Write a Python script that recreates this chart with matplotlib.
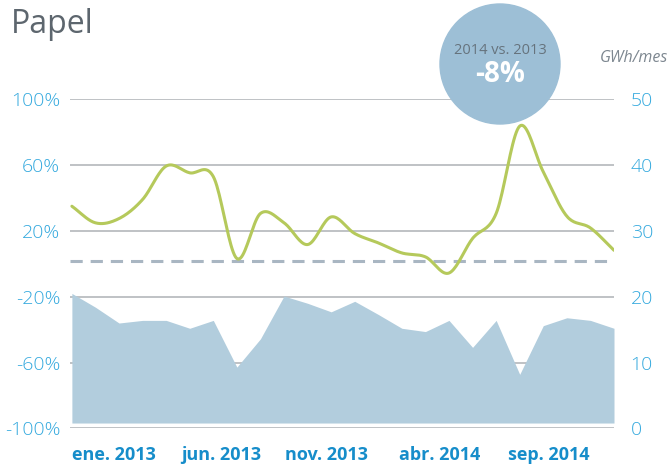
import numpy as np
import matplotlib
matplotlib.use("Agg")
import matplotlib.pyplot as plt
from matplotlib.patches import Ellipse

# monthly data, ene. 2013 .. dic. 2014
meses = ["ene. 2013", "feb. 2013", "mar. 2013", "abr. 2013", "may. 2013", "jun. 2013",
         "jul. 2013", "ago. 2013", "sep. 2013", "oct. 2013", "nov. 2013", "dic. 2013",
         "ene. 2014", "feb. 2014", "mar. 2014", "abr. 2014", "may. 2014", "jun. 2014",
         "jul. 2014", "ago. 2014", "sep. 2014", "oct. 2014", "nov. 2014", "dic. 2014"]
gwh = [20.5, 18.4, 16.0, 16.4, 16.4, 15.2, 16.4, 9.3, 13.6, 20.1, 19.0, 17.7,
       19.3, 17.3, 15.2, 14.7, 16.4, 12.3, 16.4, 8.2, 15.6, 16.8, 16.4, 15.2]
variacion = [35.0, 24.9, 27.5, 39.1, 59.4, 55.3, 53.0, 3.2, 30.6, 24.9, 11.7, 28.5,
             18.4, 12.7, 6.6, 4.2, -5.6, 15.4, 30.6, 83.7, 55.9, 28.9, 21.8, 8.2]
media = 1.5
etiquetas = ["ene. 2013", "jun. 2013", "nov. 2013", "abr. 2014", "sep. 2014"]
pos_etiquetas = [1.78, 6.34, 10.82, 15.61, 20.24]
pct_ticks = [-100, -60, -20, 20, 60, 100]
gwh_ticks = [0, 10, 20, 30, 40, 50]

BLUE = "#34a9de"
DARK_BLUE = "#168dca"
GREEN = "#b5c95b"
AREA = "#b2cddd"
GRID = "#b4b7bb"


def catmull_rom(x, y, n=20):
    x = np.asarray(x, float)
    y = np.asarray(y, float)
    xp = np.concatenate([[2 * x[0] - x[1]], x, [2 * x[-1] - x[-2]]])
    yp = np.concatenate([[2 * y[0] - y[1]], y, [2 * y[-1] - y[-2]]])
    xs, ys = [], []
    t = np.linspace(0, 1, n, endpoint=False)
    for i in range(1, len(xp) - 2):
        p0, p1, p2, p3 = yp[i - 1], yp[i], yp[i + 1], yp[i + 2]
        m1 = (p2 - p0) / 2
        m2 = (p3 - p1) / 2
        h00 = 2 * t**3 - 3 * t**2 + 1
        h10 = t**3 - 2 * t**2 + t
        h01 = -2 * t**3 + 3 * t**2
        h11 = t**3 - t**2
        ys.append(h00 * p1 + h10 * m1 + h01 * p2 + h11 * m2)
        xs.append(xp[i] + t * (xp[i + 1] - xp[i]))
    xs.append([x[-1]])
    ys.append([y[-1]])
    return np.concatenate(xs), np.concatenate(ys)


plt.rcParams['font.family'] = ['Open Sans', 'DejaVu Sans']

fig = plt.figure(figsize=(6.71, 4.69), dpi=100)
ax = fig.add_axes([70 / 671, 1 - 428.3 / 469, 544 / 671, 329 / 469])
ax2 = ax.twinx()

x = np.arange(len(meses))

# area (right axis)
ax2.fill_between(x, 0.8, gwh, color=AREA, linewidth=0, zorder=1)
ax2.set_ylim(0, 50)

# gridlines on left axis
ax.set_ylim(-100, 100)
ax.set_xlim(-0.08, 23.0)
for v in pct_ticks:
    ax2.plot([-0.08, 23.0], [(v + 100) / 4, (v + 100) / 4], color=GRID, lw=1.2, zorder=0)

ax2.axhline((media + 100) / 4, color="#a9b6c2", lw=2.2, dashes=(4, 2.6), zorder=2)
sx, sy = catmull_rom(x, variacion)
ax2.plot(sx, (sy + 100) / 4, color=GREEN, lw=2.2, zorder=3, solid_capstyle='round')

ax.set_yticks(pct_ticks)
ax.set_yticklabels([f"{v}%" for v in pct_ticks])
ax2.set_yticks(gwh_ticks)
ax.tick_params(axis='y', length=0, pad=7, labelsize=14, labelcolor=BLUE)
ax2.tick_params(axis='y', length=0, pad=12, labelsize=14, labelcolor=BLUE)
for lbl in ax.get_yticklabels() + ax2.get_yticklabels():
    lbl.set_fontweight('light')

ax.set_xticks(pos_etiquetas)
ax.set_xticklabels(etiquetas, fontsize=13, fontweight='bold', color=DARK_BLUE)
ax.tick_params(axis='x', length=0, pad=13)

for a in (ax, ax2):
    for s in a.spines.values():
        s.set_visible(False)
ax.set_zorder(ax2.get_zorder() - 1)
ax.patch.set_visible(False)

fig.text(11 / 671, 1 - 33 / 469, "Papel", fontsize=23, color="#5d666e")
fig.text(668 / 671, 1 - 62 / 469, "GWh/mes", fontsize=11.5, style='italic',
         color="#7d8790", ha='right')

circ = Ellipse((500 / 671, 1 - 64 / 469), 120 / 671, 120 / 469,
               transform=fig.transFigure, color="#9dbfd6", zorder=5)
fig.patches.append(circ)
fig.text(500 / 671, 1 - 50 / 469, "2014 vs. 2013", fontsize=10.5, color="#66737d",
         ha='center', va='center', zorder=6)
fig.text(500 / 671, 1 - 75 / 469, "-8%", fontsize=20, color="white", fontweight='bold',
         ha='center', va='center', zorder=6)

fig.savefig("out.png", dpi=100)
